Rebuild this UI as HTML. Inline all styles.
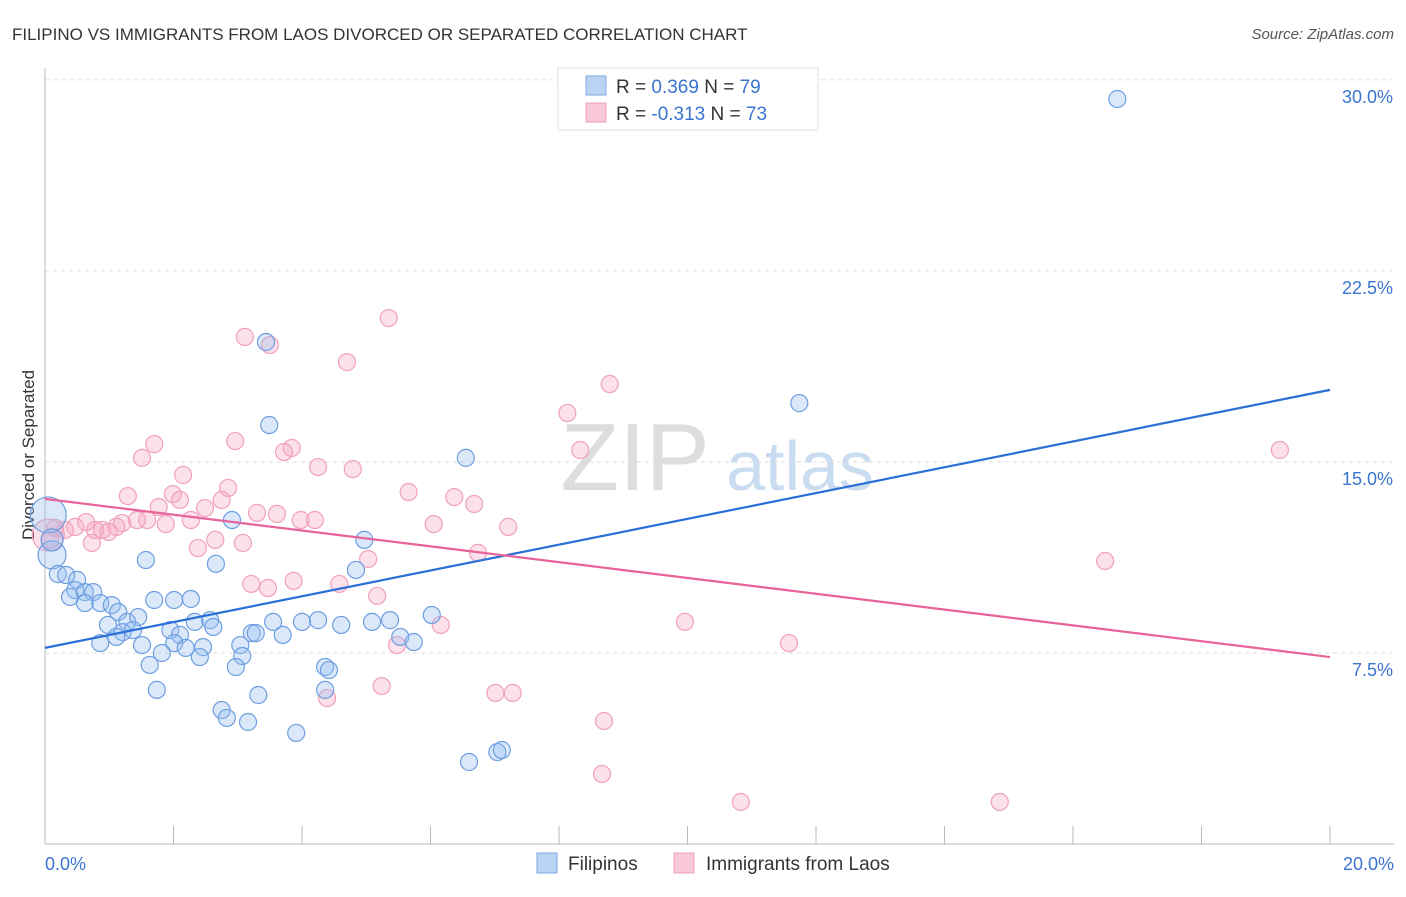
<!DOCTYPE html>
<html><head><meta charset="utf-8"><style>
body{margin:0;background:#fff;font-family:"Liberation Sans",sans-serif}
svg text{font-family:"Liberation Sans",sans-serif}
</style></head><body>
<svg id="c" width="1406" height="892" xmlns="http://www.w3.org/2000/svg">
<text x="12" y="40" font-size="17" fill="#333">FILIPINO VS IMMIGRANTS FROM LAOS DIVORCED OR SEPARATED CORRELATION CHART</text>
<text x="1394" y="39" font-size="15" fill="#555" text-anchor="end" font-style="italic">Source: ZipAtlas.com</text>
<text x="34" y="455" font-size="17" fill="#333" text-anchor="middle" transform="rotate(-90 34 455)">Divorced or Separated</text>
<g><text x="635" y="490" font-size="96" fill="#ddd" font-family="Liberation Serif" text-anchor="middle">ZIP</text><text x="800" y="490" font-size="70" fill="#c9dcf0" text-anchor="middle">atlas</text></g>
<g id="grid"></g><g id="axes"></g><g id="pts"></g><g id="trend"></g>
<g>
<rect x="558" y="68" width="260" height="62" fill="#fff" stroke="#ddd"/>
<rect x="586" y="76" width="20" height="19" fill="#b9d3f3" stroke="#7ea8e0"/>
<rect x="586" y="103" width="20" height="19" fill="#f9c8d6" stroke="#eea0b8"/>
<text x="616" y="93" font-size="19" fill="#333">R = <tspan fill="#3a74d0"> 0.369</tspan>   N = <tspan fill="#3a74d0">79</tspan></text>
<text x="616" y="120" font-size="19" fill="#333">R = <tspan fill="#3a74d0">-0.313</tspan>   N = <tspan fill="#3a74d0">73</tspan></text>
</g>
<g>
<rect x="537" y="853" width="20" height="20" fill="#b9d3f3" stroke="#7ea8e0"/>
<text x="568" y="870" font-size="19" fill="#333">Filipinos</text>
<rect x="674" y="853" width="20" height="20" fill="#f9c8d6" stroke="#eea0b8"/>
<text x="706" y="870" font-size="19" fill="#333">Immigrants from Laos</text>
</g>
</svg>
<script>
const yTicks=[7.5,15,22.5,30];
const yTickLabels=["7.5%","15.0%","22.5%","30.0%"];
const xTicks=[0,2,4,6,8,10,12,14,16,18,20];
const xEndLabels=["0.0%","20.0%"];
const blueX=[16.69,11.74,3.44,3.49,6.55,2.91,4.97,4.84,1.57,2.66,0.05,0.11,0.11,0.2,0.33,0.5,0.47,0.39,0.62,0.75,0.62,0.86,1.04,1.14,0.98,1.28,1.45,1.21,1.37,0.86,1.11,1.51,1.70,2.01,2.27,1.95,2.1,2.01,1.82,1.63,2.19,1.74,2.33,2.57,2.62,2.46,2.41,3.04,3.07,2.97,3.22,3.28,3.7,3.55,3.32,2.75,2.83,3.16,3.91,4.0,4.25,4.61,4.36,4.42,4.36,5.09,5.37,5.53,5.74,6.02,6.6,7.04,7.11];
const blueY=[29.25,17.31,19.71,16.45,15.16,12.72,11.94,10.76,11.15,11.0,12.92,11.35,11.94,10.6,10.56,10.37,9.97,9.70,9.89,9.89,9.46,9.46,9.38,9.11,8.6,8.72,8.91,8.32,8.4,7.89,8.13,7.81,9.58,9.58,9.62,8.4,8.21,7.89,7.5,7.03,7.7,6.05,8.72,8.79,8.52,7.73,7.34,7.81,7.38,6.95,8.28,8.28,8.21,8.72,5.85,5.26,4.95,4.79,4.36,8.72,8.79,8.6,6.95,6.83,6.05,8.72,8.79,8.13,7.93,8.99,3.22,3.61,3.69];
const blueR=[8.5,8.5,8.5,8.5,8.5,8.5,8.5,8.5,8.5,8.5,18,14,11];
const pinkX=[5.35,3.11,3.5,4.7,8.79,8.13,8.33,19.22,1.7,1.51,2.96,3.84,3.72,4.25,4.79,2.15,1.29,2.85,1.99,2.1,2.75,1.77,2.49,5.66,6.37,6.68,3.3,3.61,2.27,1.59,1.43,1.88,1.2,1.11,0.64,0.78,0.47,0.31,0.16,0.05,0.08,0.89,0.99,0.73,2.65,2.38,3.08,3.98,4.2,6.05,7.21,6.74,5.03,3.21,3.47,3.87,4.58,5.17,6.16,9.96,5.48,11.58,16.5,4.39,5.24,7.01,7.28,8.7,8.67,10.83,14.86];
const pinkY=[20.65,19.91,19.59,18.92,18.06,16.92,15.47,15.47,15.7,15.16,15.82,15.55,15.39,14.8,14.72,14.49,13.66,13.98,13.74,13.51,13.51,13.23,13.19,13.82,13.62,13.35,13.0,12.96,12.72,12.72,12.72,12.56,12.6,12.45,12.64,12.33,12.45,12.33,12.41,12.13,11.94,12.33,12.25,11.82,11.94,11.62,11.82,12.72,12.72,12.56,12.45,11.43,11.19,10.21,10.05,10.33,10.21,9.74,8.6,8.72,7.81,7.89,11.11,5.73,6.2,5.93,5.93,4.83,2.75,1.65,1.65];
const blueTrend=[7.7,17.83];
const pinkTrend=[13.55,7.34];
const NS="http://www.w3.org/2000/svg";
const X=v=>45+v*64.25, Y=v=>844-v*25.47;
function mk(p,tag,at){const e=document.createElementNS(NS,tag);for(const k in at)e.setAttribute(k,at[k]);document.getElementById(p).appendChild(e);return e;}
yTicks.forEach((t,i)=>{
 const l=mk('grid','line',{x1:45,x2:1394,y1:Y(t),y2:Y(t),stroke:'#ddd','stroke-dasharray':'4,4'});
 
 
 const tx=mk('grid','text',{x:1393,y:Y(t)+23,'font-size':18,fill:'#3a74d0','text-anchor':'end'});
 tx.textContent=yTickLabels[i];
 
 
});
const ax=mk('axes','line',{x1:45,x2:1394,y1:844,y2:844,stroke:'#bbb'});


const ay=mk('axes','line',{x1:45,x2:45,y1:68,y2:844,stroke:'#bbb'});


xTicks.forEach(t=>{const l=mk('axes','line',{x1:X(t),x2:X(t),y1:826,y2:844,stroke:'#bbb'});
 
 });
[[0,'start'],[20,'end']].forEach((a,i)=>{const t=mk('axes','text',{x:i?1394:45,y:870,'font-size':18,fill:'#3a74d0','text-anchor':a[1]});t.textContent=xEndLabels[i];
 
 });
pinkX.forEach((v,i)=>{const c=mk('pts','circle',{cx:X(v),cy:Y(pinkY[i]),r:i==39?16:8.5,fill:'rgba(246,170,195,0.35)',stroke:'#f0a0ba','stroke-width':1.2});
 
 });
blueX.forEach((v,i)=>{const c=mk('pts','circle',{cx:X(v),cy:Y(blueY[i]),r:blueR[i]||8.5,fill:'rgba(150,190,240,0.35)',stroke:'#6d9ee0','stroke-width':1.2});
 
 });
const bt=mk('trend','line',{x1:X(0),y1:Y(blueTrend[0]),x2:X(20),y2:Y(blueTrend[1]),stroke:'#2a6fd6','stroke-width':2.2});


const pt=mk('trend','line',{x1:X(0),y1:Y(pinkTrend[0]),x2:X(20),y2:Y(pinkTrend[1]),stroke:'#e8639a','stroke-width':2.2});


</script>
</body></html>
